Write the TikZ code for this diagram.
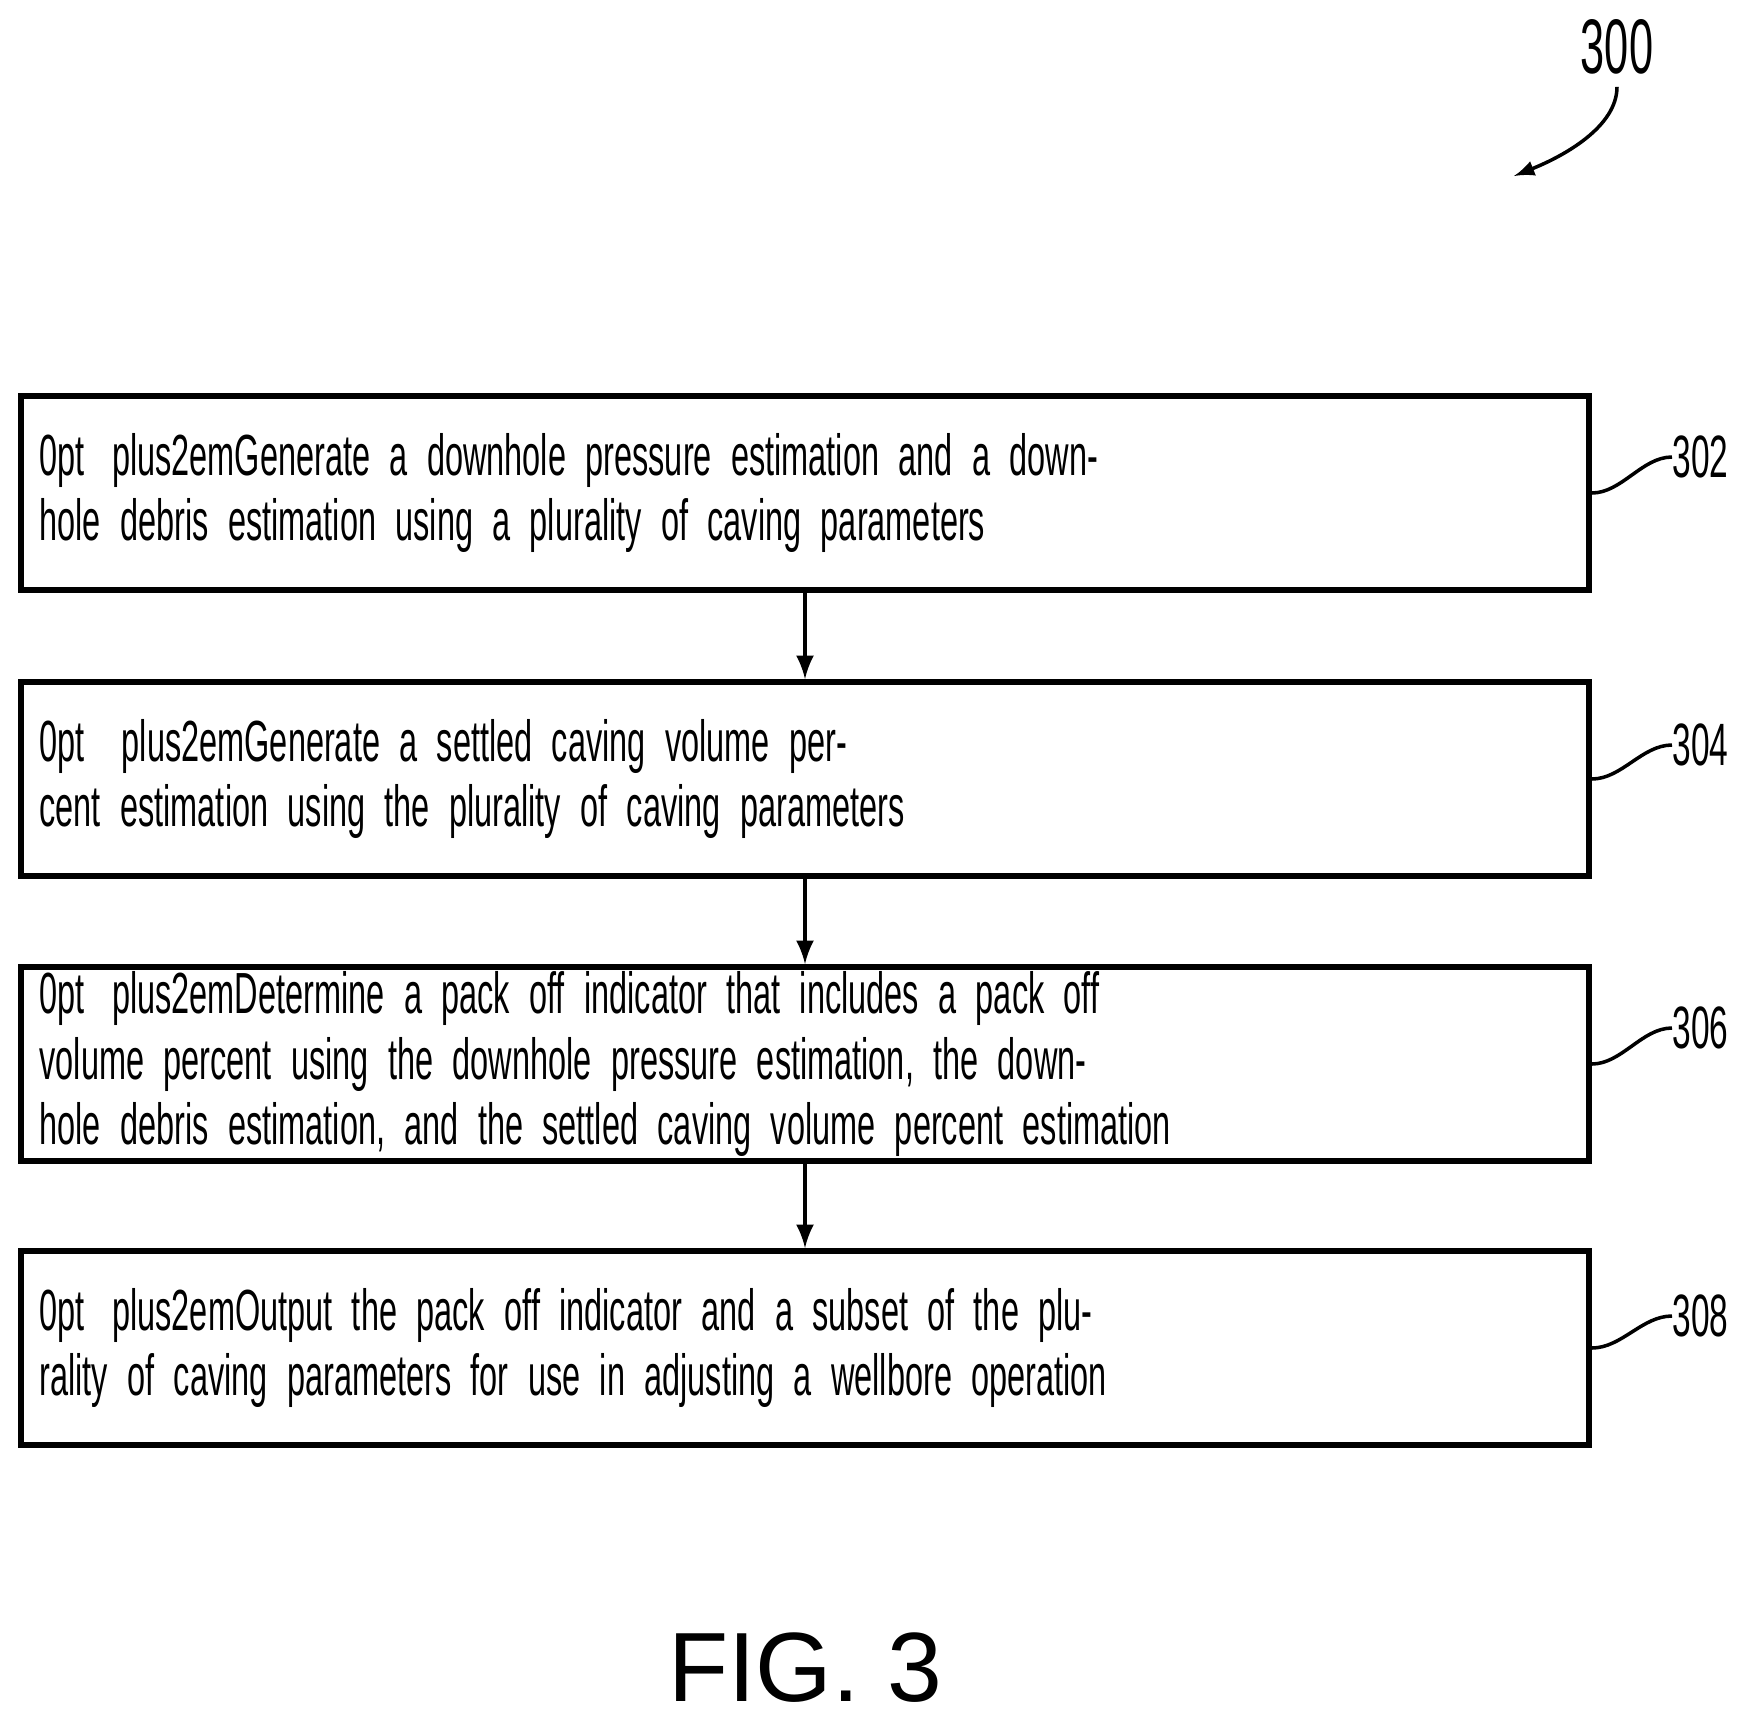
\documentclass[tikz,border=0pt]{standalone}
\usepackage{fontspec}
\setmainfont{Liberation Sans}[FakeStretch=0.56]
\usetikzlibrary{positioning}
\begin{document}
\begin{tikzpicture}[x=0.01cm,y=-0.01cm,
  stepbox/.style={draw,line width=1.6pt,minimum width=15.67cm,minimum height=1.94cm,
    text width=15.3cm,align=center,font=\fontsize{16.5}{18.6}\selectfont\hyphenpenalty=10000,inner sep=0pt},
  num/.style={font=\fontsize{17}{18}\selectfont,anchor=west,inner sep=0pt},
  flow/.style={->,line width=1.3pt,>=latex}]
\useasboundingbox (0,0) rectangle (1748,1723);

\node[stepbox] (s302) at (805,493) {Generate a downhole pressure estimation and a downhole debris estimation using a plurality of caving parameters};
\node[stepbox] (s304) at (805,779) {Generate a settled caving volume percent estimation using the plurality of caving parameters};
\node[stepbox] (s306) at (805,1064) {Determine a pack off indicator that includes a pack off volume percent using the downhole pressure estimation, the downhole debris estimation, and the settled caving volume percent estimation};
\node[stepbox] (s308) at (805,1348) {Output the pack off indicator and a subset of the plurality of caving parameters for use in adjusting a wellbore operation};

\draw[flow] (s302) -- (s304);
\draw[flow] (s304) -- (s306);
\draw[flow] (s306) -- (s308);

% reference numerals
\foreach \s/\y in {302/457,304/745,306/1028,308/1316}{
  \node[num] (n\s) at (1672,\y) {\s};
  \draw[line width=1pt] (s\s.east) .. controls +(30,0) and +(-30,0) .. (n\s.west);
}

\node[font=\fontsize{22}{24}\selectfont] (n300) at (1617,47) {300};
\coordinate (c300) at (1514,176);
\draw[line width=1pt,-latex] (n300.south) .. controls +(0,40) and +(50,-20) .. (c300);

\node[font=\fontsize{28}{30}\selectfont\addfontfeature{FakeStretch=1}] (fig) at (805,1668) {FIG. 3};
\end{tikzpicture}
\end{document}
